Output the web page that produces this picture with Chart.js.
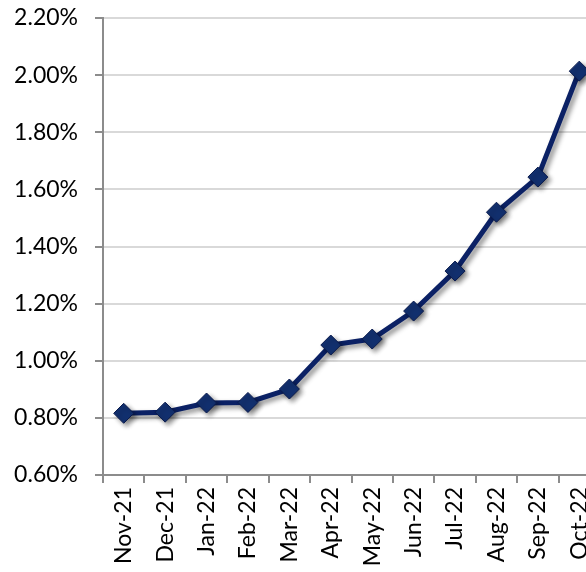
<!DOCTYPE html>
<html>
<head>
<meta charset="utf-8">
<script src="https://cdn.jsdelivr.net/npm/chart.js@4"></script>
<style>
  html, body { margin: 0; padding: 0; background: #fff; overflow: hidden; }
  #wrap { width: 586px; height: 572px; overflow: hidden; }
</style>
</head>
<body>
<div id="wrap"><canvas id="chart" width="611" height="572"></canvas></div>
<script>
const MONTHS = ["Nov-21", "Dec-21", "Jan-22", "Feb-22", "Mar-22", "Apr-22",
  "May-22", "Jun-22", "Jul-22", "Aug-22", "Sep-22", "Oct-22"];
const RATES = [0.816, 0.820, 0.852, 0.854, 0.901, 1.055,
  1.076, 1.174, 1.314, 1.520, 1.643, 2.014];
const Y_MIN = 0.6;
const Y_MAX = 2.2;
const Y_STEP = 0.2;

const shadow = {
  id: "shadow",
  beforeDatasetsDraw(chart) {
    const ctx = chart.ctx;
    ctx.save();
    ctx.shadowColor = "rgba(0, 0, 0, 0.45)";
    ctx.shadowBlur = 5;
    ctx.shadowOffsetX = 3;
    ctx.shadowOffsetY = 3;
  },
  afterDatasetsDraw(chart) {
    chart.ctx.restore();
  }
};

const FONT = { family: "Lato, 'Open Sans', sans-serif", size: 23 };

new Chart(document.getElementById("chart"), {
  type: "line",
  data: {
    labels: MONTHS,
    datasets: [{
      data: RATES,
      borderColor: "#0b2165",
      borderWidth: 5,
      pointStyle: "rectRot",
      pointRadius: 10,
      pointBackgroundColor: "#12306f",
      pointBorderColor: "#0a1a4c",
      pointBorderWidth: 1,
      tension: 0,
      fill: false
    }]
  },
  plugins: [shadow],
  options: {
    responsive: false,
    animation: false,
    clip: false,
    layout: { padding: { top: 18, right: 0, left: 0, bottom: 0 } },
    plugins: { legend: { display: false }, tooltip: { enabled: false } },
    scales: {
      x: {
        offset: true,
        grid: { drawOnChartArea: false, offset: true, tickLength: 8, tickColor: "#8c8c8c", lineWidth: 2 },
        border: { color: "#8c8c8c", width: 2 },
        ticks: { color: "#000", font: FONT, minRotation: 90, maxRotation: 90, autoSkip: false, padding: 4 },
        afterFit(scale) {
          scale.height = 97;
          scale.paddingLeft = 0;
          scale.paddingRight = 0;
        }
      },
      y: {
        min: Y_MIN,
        max: Y_MAX,
        grid: { color: "#d9d9d9", lineWidth: 2, tickLength: 8, tickColor: "#8c8c8c" },
        border: { color: "#8c8c8c", width: 2 },
        ticks: {
          stepSize: Y_STEP,
          color: "#000",
          font: FONT,
          padding: 17,
          callback: (v) => v.toFixed(2) + "%"
        },
        afterFit(scale) {
          scale.width = 103;
          scale.paddingTop = 0;
          scale.paddingBottom = 0;
        }
      }
    }
  }
});
</script>
</body>
</html>
